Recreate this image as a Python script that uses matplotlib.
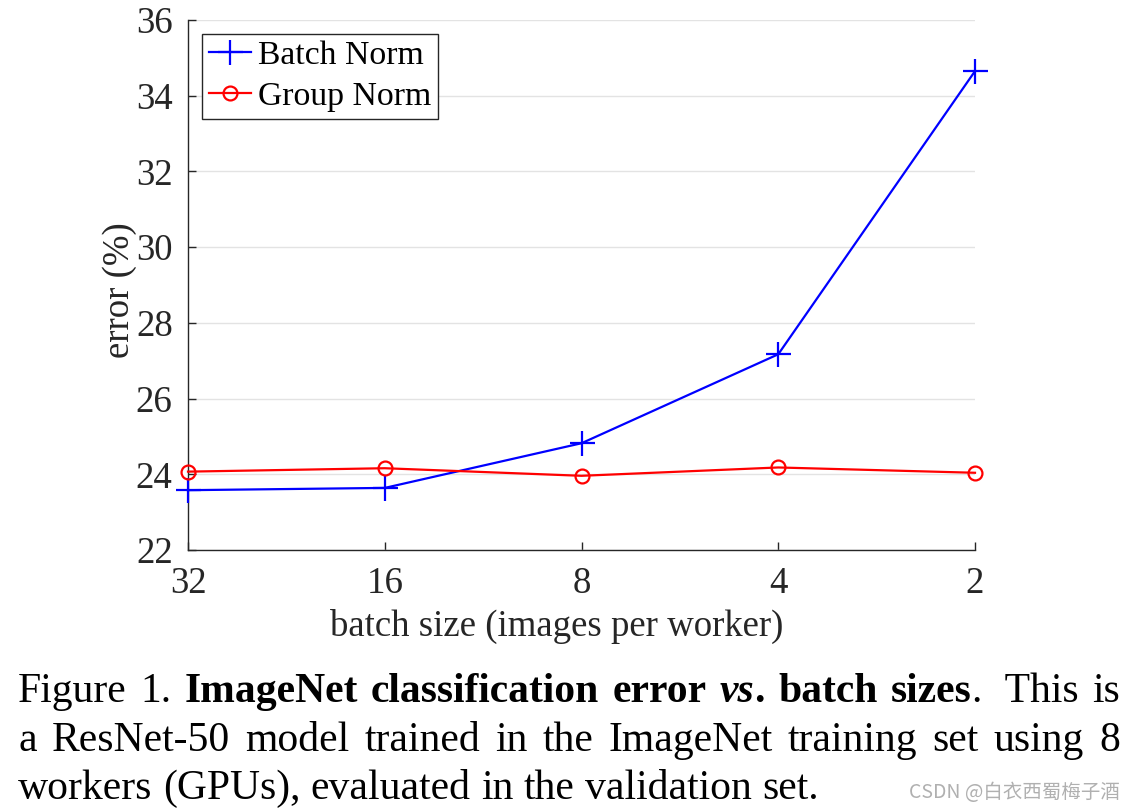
import matplotlib
matplotlib.use("Agg")
import matplotlib.pyplot as plt

# --- data ---
batch_sizes = ["32", "16", "8", "4", "2"]
bn_error = [23.58, 23.64, 24.82, 27.17, 34.65]
gn_error = [24.07, 24.16, 23.96, 24.18, 24.04]
y_ticks = [22, 24, 26, 28, 30, 32, 34, 36]

caption_lines = [
    [[("Figure", "normal", "normal")], [("1.", "normal", "normal")],
     [("ImageNet", "bold", "normal")], [("classification", "bold", "normal")],
     [("error", "bold", "normal")], [("vs", "bold", "italic"), (".", "bold", "normal")],
     [("batch", "bold", "normal")], [("sizes", "bold", "normal"), (".", "normal", "normal")],
     [(" This", "normal", "normal")], [("is", "normal", "normal")]],
    [[(w, "normal", "normal")] for w in
     "a ResNet-50 model trained in the ImageNet training set using 8".split()],
    [[(w, "normal", "normal")] for w in
     "workers (GPUs), evaluated in the validation set.".split()],
]

plt.rcParams["font.family"] = "Liberation Serif"
text_color = "#262626"
fs = 26.5

W, H = 1136, 810
fig = plt.figure(figsize=(W / 100, H / 100), dpi=100)
ax = fig.add_axes([188 / W, 1 - 550 / H, (975 - 188) / W, 530 / H])

x = range(len(batch_sizes))
ax.plot(x, bn_error, color="blue", lw=1.6, marker="+", ms=18, mew=1.6,
        label="Batch Norm", clip_on=False, zorder=3)
ax.plot(x, gn_error, color="red", lw=1.6, marker="o", ms=10, mew=1.6,
        mfc="none", label="Group Norm", clip_on=False, zorder=3)

ax.set_xlim(0, len(batch_sizes) - 1)
ax.set_ylim(22, 36)
ax.set_xticks(list(x))
ax.set_xticklabels(batch_sizes)
ax.set_yticks(y_ticks)
ax.yaxis.grid(True, color="#e3e3e3", lw=1)
ax.set_axisbelow(True)

for s in ["top", "right"]:
    ax.spines[s].set_visible(False)
for s in ["left", "bottom"]:
    ax.spines[s].set_color(text_color)
    ax.spines[s].set_linewidth(1)

ax.tick_params(direction="in", length=6, width=1, color=text_color,
               labelsize=fs, labelcolor=text_color)
ax.tick_params(axis="x", pad=12)
ax.tick_params(axis="y", pad=11)

ax.set_xlabel("batch size (images per worker)", fontsize=fs, color=text_color)
ax.xaxis.set_label_coords(0.469, -0.145)
ax.xaxis.label.set_va("center")
ax.set_ylabel("error (%)", fontsize=fs, color=text_color)
ax.yaxis.set_label_coords(-0.087, 0.49)
ax.yaxis.label.set_va("center")

leg = ax.legend(loc="upper left", bbox_to_anchor=(0.018, 0.974), fontsize=24.3,
                fancybox=False, framealpha=1, edgecolor=text_color,
                handlelength=1.25, handletextpad=0.2, borderpad=0.2,
                labelspacing=0.3, borderaxespad=0)
leg.get_frame().set_linewidth(1)

# --- justified caption ---
renderer = fig.canvas.get_renderer()
cap_size = 30
x0, x1 = 18, 1120
baselines = [702, 751, 799]


def place(word, xpix, ypix, draw=True):
    pos = xpix
    for piece, weight, style in word:
        t = fig.text(pos / W, 1 - ypix / H, piece, fontsize=cap_size,
                     fontweight=weight, fontstyle=style, va="baseline",
                     ha="left", color="black")
        pos += t.get_window_extent(renderer).width
        if not draw:
            t.remove()
    return pos - xpix


space_w = place([(" ", "normal", "normal")], 0, 0, draw=False)
for i, line in enumerate(caption_lines):
    widths = [place(w, 0, 0, draw=False) for w in line]
    justify = i < len(caption_lines) - 1
    gap = (x1 - x0 - sum(widths)) / (len(line) - 1) if justify else space_w
    pos = x0
    for w, wd in zip(line, widths):
        place(w, pos, baselines[i])
        pos += wd + gap

fig.text(1120 / W, 1 - 792 / H, "CSDN @白衣西蜀梅子酒", fontsize=14,
         family=["Noto Sans CJK SC", "DejaVu Sans"], color="#b0b0b0",
         ha="right", va="center")

fig.savefig("out.png", dpi=100)
